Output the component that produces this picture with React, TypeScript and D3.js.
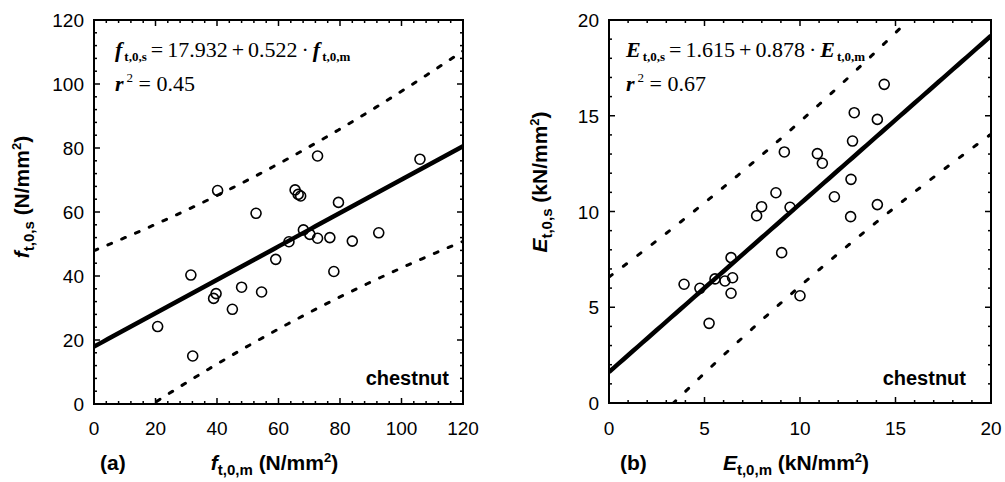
import React from 'react';
import * as d3 from 'd3';

// (a) tensile strength: mean (m) vs. characteristic (s), N/mm2
const strengthM = [106, 72.7, 40.2, 65.4, 66.4, 67.2, 79.5, 52.7, 68.1, 70.2, 72.7, 76.7, 63.4, 84, 92.6, 59.1, 78, 31.5, 48, 39.7, 38.9, 54.5, 45, 20.7, 32.1];
const strengthS = [76.5, 77.5, 66.7, 66.9, 65.5, 65, 63, 59.6, 54.4, 53, 51.8, 52, 50.7, 50.9, 53.5, 45.2, 41.4, 40.3, 36.5, 34.5, 33, 35, 29.6, 24.2, 15];
const strengthTicks = [0, 20, 40, 60, 80, 100, 120];
const strengthFit = [17.932, 0.522];

// (b) modulus of elasticity, kN/mm2
const modulusM = [14.41, 12.84, 14.05, 12.75, 9.18, 10.91, 11.17, 12.67, 8.74, 11.8, 7.73, 7.99, 9.48, 14.05, 12.65, 9.04, 6.39, 3.93, 4.76, 5.55, 6.07, 6.47, 6.39, 10, 5.24];
const modulusS = [16.64, 15.16, 14.81, 13.68, 13.11, 13.02, 12.52, 11.68, 10.98, 10.77, 9.78, 10.25, 10.22, 10.36, 9.73, 7.85, 7.59, 6.2, 5.99, 6.48, 6.37, 6.54, 5.73, 5.6, 4.16];
const modulusTicks = [0, 5, 10, 15, 20];
const modulusFit = [1.615, 0.878];

const T95 = 2.069; // t(0.975, n-2 = 23)

// half width of the 95% prediction band
function bandWidth(xs: number[], ys: number[], fit: number[]) {
  const n = xs.length;
  const xm = d3.mean(xs)!;
  const sxx = d3.sum(xs, (x) => (x - xm) ** 2);
  const sse = d3.sum(xs, (x, i) => (ys[i] - (fit[0] + fit[1] * x)) ** 2);
  const s = Math.sqrt(sse / (n - 2));
  return (x: number) => T95 * s * Math.sqrt(1 + 1 / n + (x - xm) ** 2 / sxx);
}

const sans = 'Liberation Sans, Arial, sans-serif';
const serif = 'Liberation Serif, Times New Roman, serif';

const Panel = ({ id, left, right, top, bottom, ticks, minor, xs, ys, fit, dash, sym, r2, eqX, yLabelX, yLabelY, tagX, tagText, woodX, unit }) => {
  const max = ticks[ticks.length - 1];
  const x = d3.scaleLinear().domain([0, max]).range([left, right]);
  const y = d3.scaleLinear().domain([0, max]).range([bottom, top]);
  const hw = bandWidth(xs, ys, fit);
  const grid = d3.range(0, max + 0.001, minor);
  const fx = d3.range(0, max + 0.001, max / 80);
  const curve = (k: number) =>
    d3.line<number>().x((d) => x(d)).y((d) => y(fit[0] + fit[1] * d + k * hw(d)))(fx);
  const isMajor = (v: number) => ticks.some((t) => Math.abs(t - v) < 1e-6);
  const midX = (left + right) / 2;

  return (
    <g>
      <defs>
        <clipPath id={id}>
          <rect x={left} y={top} width={right - left} height={bottom - top} />
        </clipPath>
      </defs>
      <g clipPath={`url(#${id})`} fill="none" stroke="#000">
        <path d={curve(1)} strokeWidth={3} strokeDasharray={dash} strokeLinecap="round" />
        <path d={curve(-1)} strokeWidth={3} strokeDasharray={dash} strokeLinecap="round" />
        <path d={curve(0)} strokeWidth={4.5} />
        {xs.map((v, i) => (
          <circle key={i} cx={x(v)} cy={y(ys[i])} r={5} strokeWidth={1.6} />
        ))}
      </g>
      <g stroke="#000" strokeWidth={1.5}>
        {grid.map((v) => {
          const len = isMajor(v) ? 6 : 3;
          return (
            <g key={v}>
              <line x1={x(v)} x2={x(v)} y1={bottom} y2={bottom - len} />
              <line x1={x(v)} x2={x(v)} y1={top} y2={top + len} />
              <line x1={left} x2={left + len} y1={y(v)} y2={y(v)} />
              <line x1={right} x2={right - len} y1={y(v)} y2={y(v)} />
            </g>
          );
        })}
      </g>
      <rect x={left} y={top} width={right - left} height={bottom - top} fill="none" stroke="#000" strokeWidth={2} />
      <g fontFamily={sans} fontSize={19} fill="#000">
        {ticks.map((t) => (
          <text key={'x' + t} x={x(t)} y={435} textAnchor="middle">{t}</text>
        ))}
        {ticks.map((t) => (
          <text key={'y' + t} x={left - 10} y={y(t) + 7} textAnchor="end">{t}</text>
        ))}
      </g>
      <text x={eqX} y={57} fontFamily={serif} fontSize={22} wordSpacing={-1.5}>
        <tspan fontWeight="bold" fontStyle="italic">{sym}</tspan>
        <tspan fontSize={13} fontWeight="bold" dx={2} dy={4}>t,0,s</tspan>
        <tspan dy={-4}>{' = ' + fit[0].toFixed(3) + ' + ' + fit[1].toFixed(3) + ' · '}</tspan>
        <tspan fontWeight="bold" fontStyle="italic">{sym}</tspan>
        <tspan fontSize={13} fontWeight="bold" dx={2} dy={4}>t,0,m</tspan>
      </text>
      <text x={eqX} y={91} fontFamily={serif} fontSize={22}>
        <tspan fontWeight="bold" fontStyle="italic">r</tspan>
        <tspan fontSize={13} dx={3} dy={-9}>2</tspan>
        <tspan dy={9}>{' = ' + r2}</tspan>
      </text>
      <text x={woodX} y={385} fontFamily={sans} fontSize={20} fontWeight="bold" textAnchor="end">chestnut</text>
      <text x={tagX} y={470} fontFamily={sans} fontSize={21} fontWeight="bold">{tagText}</text>
      <text x={midX - 4} y={470} fontFamily={sans} fontSize={21} fontWeight="bold" textAnchor="middle">
        <tspan fontStyle="italic">{sym}</tspan>
        <tspan fontSize={15} dy={5}>t,0,m</tspan>
        <tspan dy={-5}>{' (' + unit}</tspan>
        <tspan fontSize={13} dy={-8}>2</tspan>
        <tspan dy={8}>)</tspan>
      </text>
      <text transform={`translate(${yLabelX},${yLabelY}) rotate(-90)`} fontFamily={sans} fontSize={21} fontWeight="bold" textAnchor="middle">
        <tspan fontStyle="italic">{sym}</tspan>
        <tspan fontSize={15} dy={5}>t,0,s</tspan>
        <tspan dy={-5}>{' (' + unit}</tspan>
        <tspan fontSize={13} dy={-8}>2</tspan>
        <tspan dy={8}>)</tspan>
      </text>
    </g>
  );
};

export default function App() {
  return (
    <svg width={1005} height={482} style={{ position: 'absolute', left: 0, top: 0, background: '#fff' }}>
      <Panel id="pa" left={94} right={463} top={20} bottom={404} ticks={strengthTicks} minor={4}
        xs={strengthM} ys={strengthS} fit={strengthFit} dash="4 11" sym="f" r2="0.45"
        eqX={115} yLabelX={29} yLabelY={197} tagX={100} tagText="(a)" woodX={449} unit="N/mm" />
      <Panel id="pb" left={609} right={991} top={20} bottom={403} ticks={modulusTicks} minor={1}
        xs={modulusM} ys={modulusS} fit={modulusFit} dash="4 14" sym="E" r2="0.67"
        eqX={626} yLabelX={547} yLabelY={182} tagX={620} tagText="(b)" woodX={966} unit="kN/mm" />
    </svg>
  );
}
